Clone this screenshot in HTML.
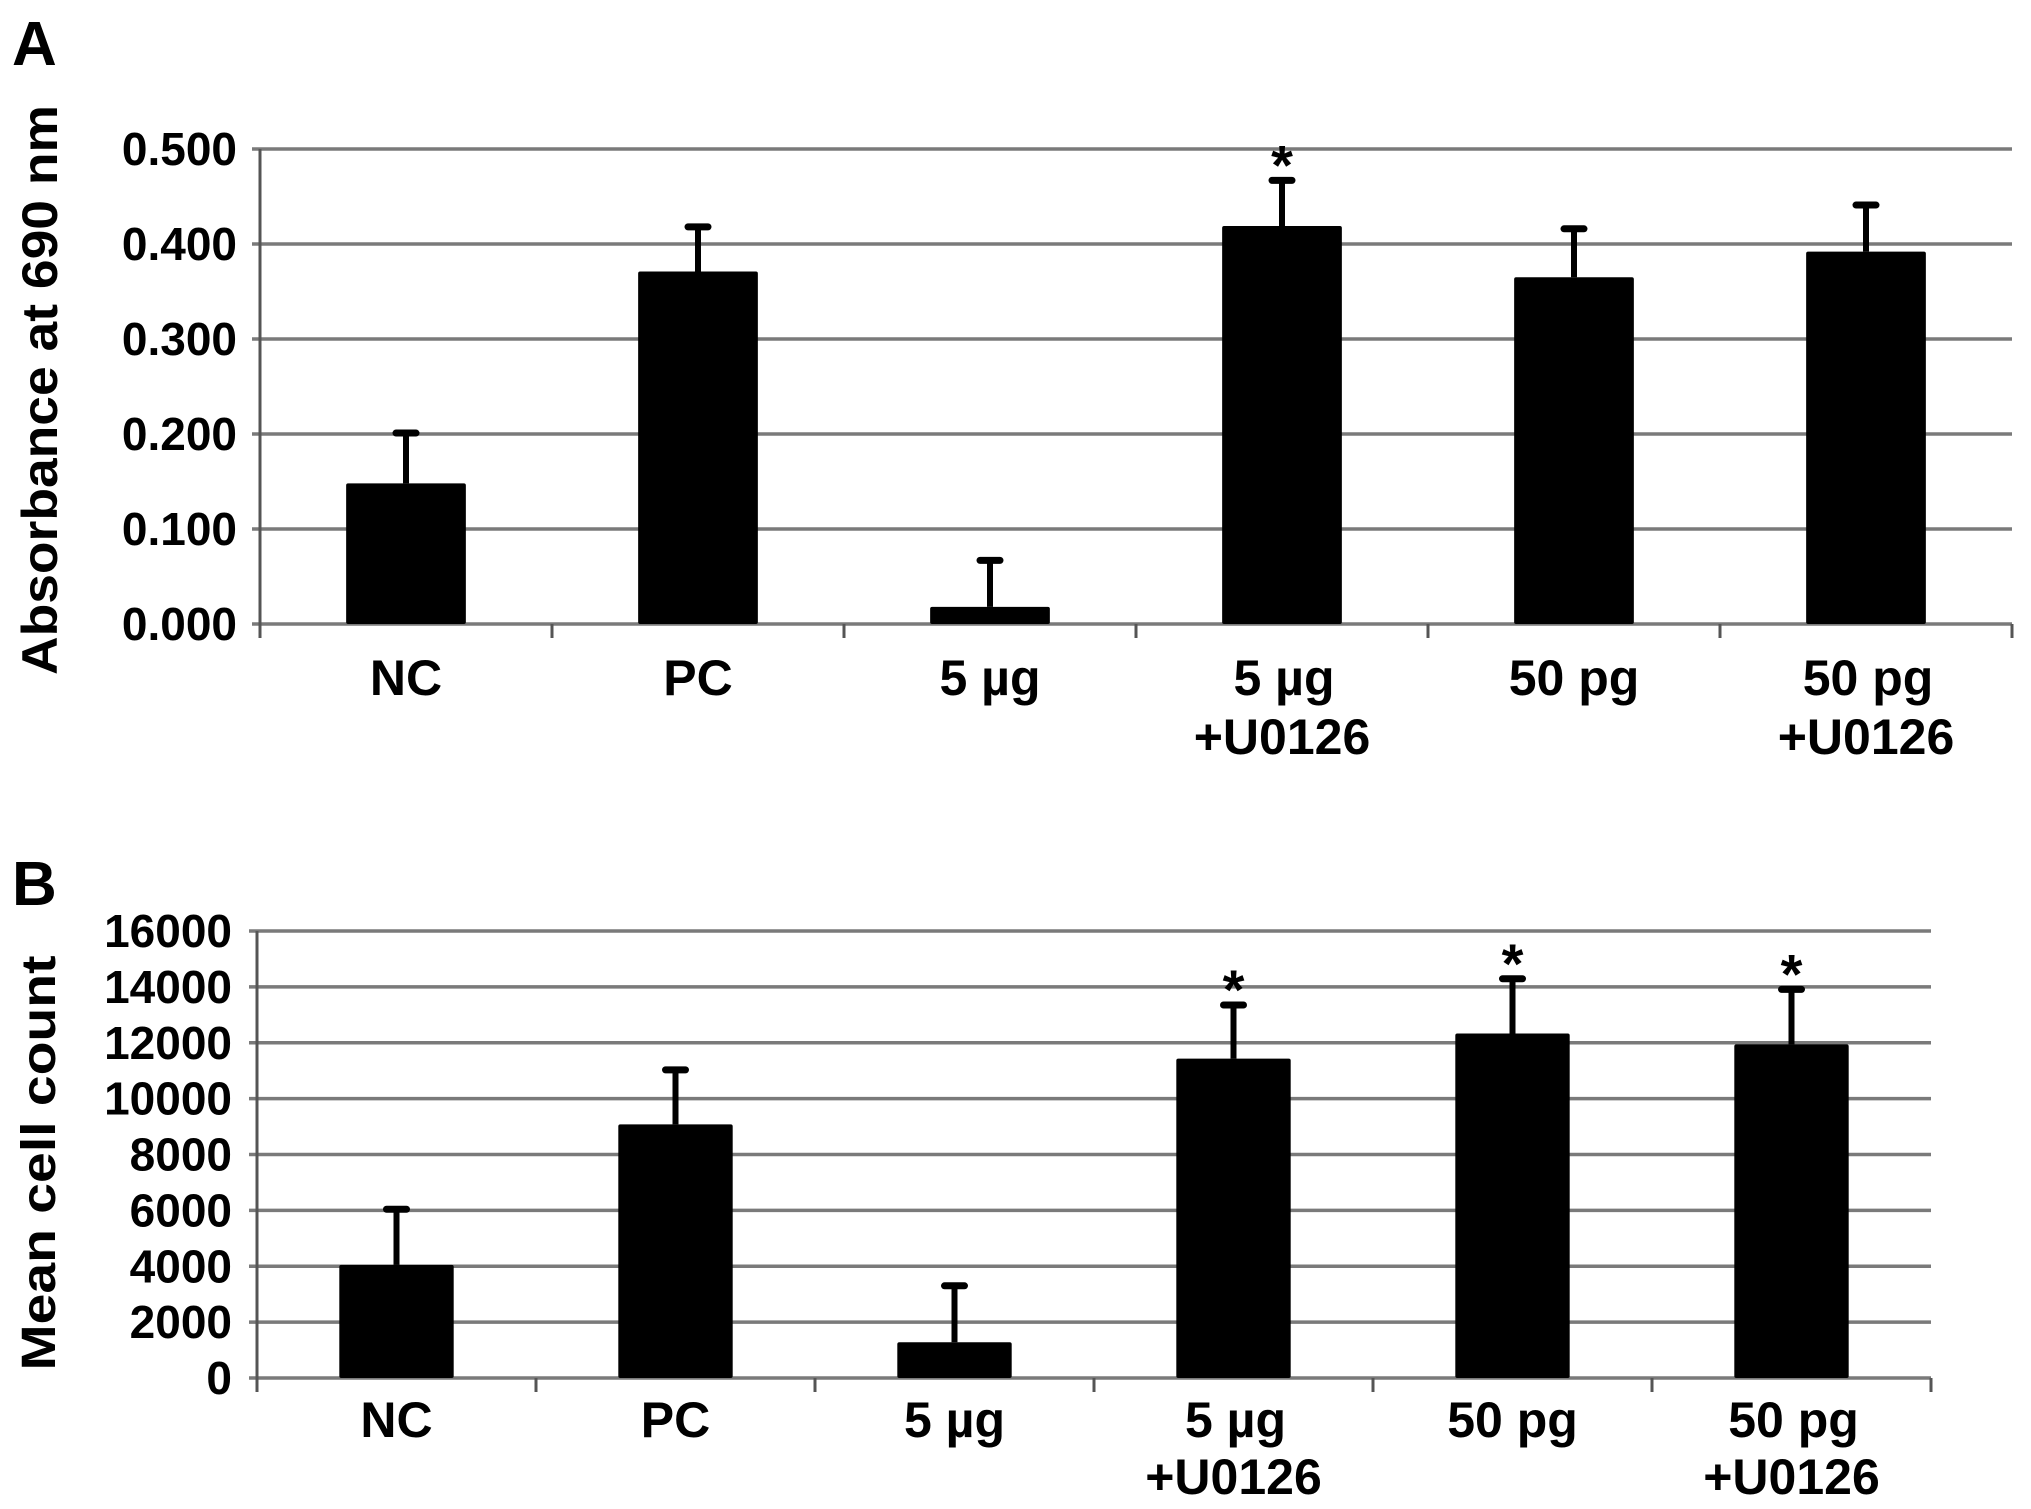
<!DOCTYPE html>
<html><head><meta charset="utf-8"><style>
html,body{margin:0;padding:0;background:#fff;}
svg{display:block;font-family:"Liberation Sans",Arial,sans-serif;font-weight:bold;}
</style></head><body>
<svg id="fig" width="2031" height="1509" viewBox="0 0 2031 1509" xmlns="http://www.w3.org/2000/svg">
<text x="12" y="65" font-size="62">A</text>
<text x="12" y="905" font-size="62">B</text>
<text transform="translate(57,390) rotate(-90)" text-anchor="middle" font-size="50" textLength="570" lengthAdjust="spacingAndGlyphs">Absorbance at 690 nm</text>
<text transform="translate(55,1163) rotate(-90)" text-anchor="middle" font-size="48" textLength="415" lengthAdjust="spacingAndGlyphs">Mean cell count</text>
<g id="chartA"></g>
<g id="chartB"></g>
</svg>
<script>
const categories = ["NC","PC","5 µg","5 µg|+U0126","50 pg","50 pg|+U0126"];
const valuesA = [0.148, 0.371, 0.018, 0.419, 0.365, 0.392];
const errorsA = [0.053, 0.047, 0.049, 0.048, 0.051, 0.049];
const sigA = [false,false,false,true,false,false];
const ticksA = [0, 0.1, 0.2, 0.3, 0.4, 0.5];
const tickLabelsA = ["0.000","0.100","0.200","0.300","0.400","0.500"];
const valuesB = [4050, 9080, 1280, 11430, 12330, 11940];
const errorsB = [1990, 1950, 2020, 1920, 1960, 1970];
const sigB = [false,false,false,true,true,true];
const ticksB = [0,2000,4000,6000,8000,10000,12000,14000,16000];
const tickLabelsB = ["0","2000","4000","6000","8000","10000","12000","14000","16000"];

const NS="http://www.w3.org/2000/svg";
function mk(parent, tag, attrs){const e=document.createElementNS(NS,tag);for(const k in attrs)e.setAttribute(k,attrs[k]);parent.appendChild(e);return e;}

function drawChart(g, cfg){
  const {x0,x1,yTop,yBot,vmax,values,errors,sig,ticks,tickLabels,barFrac,lab1,lab2,prefix,tickFont,labelEnd} = cfg;
  const yS = v => yBot - (v/vmax)*(yBot-yTop);
  const cw = (x1-x0)/categories.length;
  ticks.forEach((t,i)=>{
    const y=yS(t);
    const l=mk(g,'line',{x1:x0-8,x2:x1,y1:y,y2:y,stroke:'#7a7a7a','stroke-width':3.5});
    
    
    const tx=mk(g,'text',{x:labelEnd,y:y+16,'text-anchor':'end','font-size':tickFont});
    tx.textContent=tickLabels[i];
    
    
  });
  const ax=mk(g,'line',{x1:x0,x2:x0,y1:yTop,y2:yBot+14,stroke:'#555','stroke-width':3});
  
  
  for(let i=0;i<=categories.length;i++){
    const x=x0+i*cw;
    const tk=mk(g,'line',{x1:x,x2:x,y1:yBot,y2:yBot+14,stroke:'#555','stroke-width':3});
    
    
  }
  categories.forEach((c,i)=>{
    const cx=x0+(i+0.5)*cw, bw=cw*barFrac;
    const top=yS(values[i]), cap=yS(values[i]+errors[i]);
    const eb=mk(g,'line',{x1:cx,x2:cx,y1:top,y2:cap,stroke:'#000','stroke-width':6});
    
    
    const ec=mk(g,'line',{x1:cx-10,x2:cx+10,y1:cap,y2:cap,stroke:'#000','stroke-width':7,'stroke-linecap':'round'});
    
    
    const r=mk(g,'rect',{x:cx-bw/2,y:top,width:bw,height:yBot-top,fill:'#000',rx:2});
    
    
    if(sig[i]){
      const s=mk(g,'text',{x:cx,y:cap+4,'text-anchor':'middle','font-size':56});
      s.textContent='*';
      
      
    }
    const parts=c.split('|');
    parts.forEach((p,j)=>{
      const t=mk(g,'text',{x:cx+(j===0&&parts.length>1?2:0),y:j===0?lab1:lab2,'text-anchor':'middle','font-size':50});
      t.textContent=p;
      
      
    });
  });
}
drawChart(document.getElementById('chartA'),{x0:260,x1:2012,yTop:149,yBot:624,vmax:0.5,values:valuesA,errors:errorsA,sig:sigA,ticks:ticksA,tickLabels:tickLabelsA,barFrac:0.41,lab1:695,lab2:754,prefix:'a',tickFont:46,labelEnd:237});
drawChart(document.getElementById('chartB'),{x0:257,x1:1931,yTop:931,yBot:1378,vmax:16000,values:valuesB,errors:errorsB,sig:sigB,ticks:ticksB,tickLabels:tickLabelsB,barFrac:0.41,lab1:1437,lab2:1494,prefix:'b',tickFont:46,labelEnd:232});
</script>
</body></html>
